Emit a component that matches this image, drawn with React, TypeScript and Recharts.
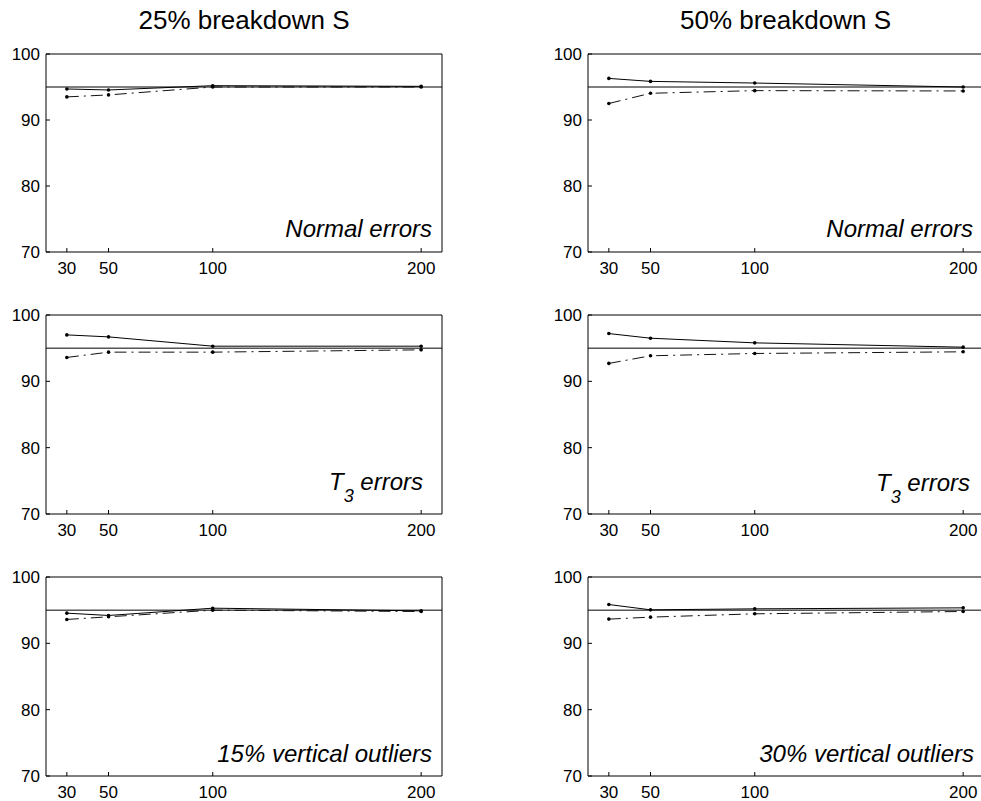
import { LineChart, Line, XAxis, YAxis, ReferenceLine } from "recharts";

const sampleSizes = [30, 50, 100, 200];
const xTicks = [30, 50, 100, 200];
const yTicks = [70, 80, 90, 100];
const nominalLevel = 95;

const columnTitles = ["25% breakdown S", "50% breakdown S"];

// coverage (%) — solid = first interval, dash-dot = second interval
const normal25Solid = [94.7, 94.55, 95.2, 95.1];
const normal25Dash = [93.5, 93.8, 95.0, 95.0];
const normal50Solid = [96.3, 95.85, 95.6, 95.0];
const normal50Dash = [92.5, 94.05, 94.45, 94.4];
const t3Err25Solid = [97.0, 96.7, 95.3, 95.3];
const t3Err25Dash = [93.6, 94.4, 94.4, 94.75];
const t3Err50Solid = [97.2, 96.5, 95.8, 95.15];
const t3Err50Dash = [92.7, 93.85, 94.2, 94.45];
const outl15Solid = [94.55, 94.2, 95.3, 94.9];
const outl15Dash = [93.6, 94.0, 95.0, 94.8];
const outl30Solid = [95.85, 95.05, 95.2, 95.35];
const outl30Dash = [93.65, 93.95, 94.45, 94.8];

const FONT = "'Liberation Sans', Arial, Helvetica, sans-serif";

function toRows(solid: number[], dash: number[]) {
  return sampleSizes.map((n, i) => ({ n, solid: solid[i], dash: dash[i] }));
}

type PanelProps = {
  left: number;
  top: number;
  height: number;
  solid: number[];
  dash: number[];
};

function Panel({ left, top, height, solid, dash }: PanelProps) {
  const data = toRows(solid, dash);
  const tickStyle = { fill: "#000", fontSize: 17, fontFamily: FONT };
  return (
    <div style={{ position: "absolute", left, top }}>
      <LineChart
        width={445}
        height={height}
        data={data}
        margin={{ top: 9, right: 2, bottom: 0, left: 0 }}
      >
        <XAxis
          dataKey="n"
          type="number"
          domain={[20, 210]}
          ticks={xTicks}
          height={30}
          tickSize={-4}
          tickMargin={14}
          tick={tickStyle}
          fontSize={17}
          fontFamily={FONT}
          stroke="#000"
          interval={0}
        />
        <XAxis
          xAxisId="top"
          orientation="top"
          dataKey="n"
          type="number"
          domain={[20, 210]}
          ticks={xTicks}
          height={1}
          tickSize={-4}
          tick={false}
          stroke="#000"
        />
        <YAxis
          type="number"
          domain={[70, 100]}
          ticks={yTicks}
          width={46}
          tickSize={-4}
          tickMargin={10}
          tick={tickStyle}
          fontSize={17}
          fontFamily={FONT}
          stroke="#000"
          interval={0}
        />
        <YAxis
          yAxisId="right"
          orientation="right"
          type="number"
          domain={[70, 100]}
          ticks={yTicks}
          width={1}
          tickSize={-4}
          tick={false}
          stroke="#000"
        />
        <ReferenceLine y={nominalLevel} stroke="#000" strokeWidth={1} />
        <Line
          dataKey="dash"
          stroke="#111"
          strokeWidth={1}
          strokeDasharray="12 5 2 5"
          dot={{ r: 1.8, fill: "#000", stroke: "none" }}
          isAnimationActive={false}
        />
        <Line
          dataKey="solid"
          stroke="#000"
          strokeWidth={1}
          dot={{ r: 1.8, fill: "#000", stroke: "none" }}
          isAnimationActive={false}
        />
      </LineChart>
    </div>
  );
}

export default function App() {
  const rows = [
    { top: 44, height: 238 },
    { top: 305, height: 239 },
    { top: 567, height: 239 },
  ];
  const colLeft = [0, 542];
  return (
    <div
      style={{
        position: "absolute",
        left: 0,
        top: 0,
        width: 981,
        height: 801,
        overflow: "hidden",
        background: "#fff",
      }}
    >
      <Panel left={colLeft[0]} {...rows[0]} solid={normal25Solid} dash={normal25Dash} />
      <Panel left={colLeft[1]} {...rows[0]} solid={normal50Solid} dash={normal50Dash} />
      <Panel left={colLeft[0]} {...rows[1]} solid={t3Err25Solid} dash={t3Err25Dash} />
      <Panel left={colLeft[1]} {...rows[1]} solid={t3Err50Solid} dash={t3Err50Dash} />
      <Panel left={colLeft[0]} {...rows[2]} solid={outl15Solid} dash={outl15Dash} />
      <Panel left={colLeft[1]} {...rows[2]} solid={outl30Solid} dash={outl30Dash} />

      <svg
        width={981}
        height={801}
        style={{ position: "absolute", left: 0, top: 0, pointerEvents: "none" }}
        fontFamily={FONT}
      >
        <text x={244} y={29} fontSize={26} textAnchor="middle" fill="#000">
          {columnTitles[0]}
        </text>
        <text x={785.5} y={29} fontSize={26} textAnchor="middle" fill="#000">
          {columnTitles[1]}
        </text>

        <g fontSize={24} fontStyle="italic" fill="#000" textAnchor="end">
          <text x={432} y={237}>Normal errors</text>
          <text x={973} y={237}>Normal errors</text>
          <text x={423} y={490}>
            T<tspan fontSize={18} dy={12}>3</tspan>
            <tspan dy={-12}> errors</tspan>
          </text>
          <text x={970} y={491}>
            T<tspan fontSize={18} dy={12}>3</tspan>
            <tspan dy={-12}> errors</tspan>
          </text>
          <text x={432} y={762}>15% vertical outliers</text>
          <text x={974} y={762}>30% vertical outliers</text>
        </g>
      </svg>
    </div>
  );
}
